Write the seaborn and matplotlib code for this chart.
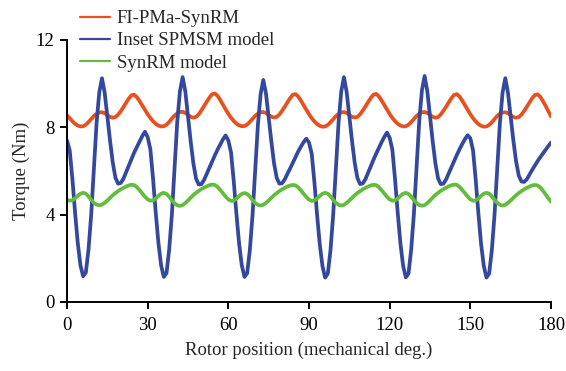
import numpy as np
import pandas as pd
import seaborn as sns
import matplotlib
matplotlib.use("Agg")
import matplotlib.pyplot as plt

# Rotor position grid (mechanical degrees)
position = list(range(0, 181))

# Torque, one value per degree
fi_pma_synrm = [
    8.55, 8.42, 8.28, 8.16, 8.08, 8.04, 8.05, 8.12, 8.24, 8.38, 8.52, 8.62, 8.68, 8.69, 8.65, 8.56, 8.48, 8.44, 8.47, 8.58, 8.74, 8.93, 9.13, 9.32, 9.47, 9.49, 9.38, 9.20, 9.00, 8.80,
    8.60, 8.43, 8.28, 8.16, 8.08, 8.04, 8.05, 8.12, 8.25, 8.40, 8.54, 8.64, 8.70, 8.71, 8.66, 8.57, 8.48, 8.44, 8.48, 8.60, 8.78, 8.98, 9.18, 9.37, 9.52, 9.55, 9.44, 9.25, 9.03, 8.82,
    8.62, 8.44, 8.29, 8.17, 8.09, 8.05, 8.06, 8.13, 8.25, 8.39, 8.53, 8.63, 8.69, 8.70, 8.66, 8.57, 8.49, 8.45, 8.48, 8.59, 8.76, 8.95, 9.15, 9.34, 9.49, 9.52, 9.41, 9.22, 9.01, 8.80,
    8.60, 8.42, 8.27, 8.15, 8.07, 8.03, 8.04, 8.11, 8.23, 8.37, 8.51, 8.62, 8.68, 8.70, 8.66, 8.57, 8.48, 8.45, 8.48, 8.60, 8.77, 8.96, 9.16, 9.35, 9.50, 9.53, 9.42, 9.23, 9.02, 8.81,
    8.61, 8.43, 8.28, 8.16, 8.08, 8.04, 8.05, 8.12, 8.24, 8.38, 8.52, 8.63, 8.69, 8.70, 8.66, 8.57, 8.48, 8.44, 8.47, 8.59, 8.76, 8.95, 9.15, 9.34, 9.49, 9.52, 9.41, 9.22, 9.01, 8.80,
    8.60, 8.42, 8.27, 8.15, 8.07, 8.03, 8.04, 8.11, 8.23, 8.38, 8.52, 8.62, 8.68, 8.69, 8.65, 8.56, 8.47, 8.44, 8.47, 8.58, 8.75, 8.94, 9.14, 9.33, 9.48, 9.51, 9.40, 9.20, 8.98, 8.74,
    8.50,
]

inset_spmsm = [
    7.40, 6.95, 5.65, 4.10, 2.70, 1.68, 1.18, 1.35, 2.40, 4.00, 6.10, 8.20, 9.60, 10.25, 9.60, 8.50, 7.40, 6.40, 5.70, 5.42, 5.45, 5.65, 5.95, 6.25, 6.55, 6.85, 7.10, 7.35, 7.60, 7.80,
    7.55, 7.00, 5.65, 4.10, 2.70, 1.68, 1.15, 1.32, 2.40, 4.00, 6.15, 8.25, 9.65, 10.30, 9.65, 8.50, 7.35, 6.35, 5.65, 5.38, 5.40, 5.60, 5.88, 6.15, 6.45, 6.72, 6.98, 7.22, 7.45, 7.63,
    7.40, 6.85, 5.55, 4.05, 2.68, 1.68, 1.15, 1.32, 2.38, 3.98, 6.05, 8.12, 9.52, 10.17, 9.55, 8.45, 7.35, 6.35, 5.68, 5.42, 5.44, 5.62, 5.88, 6.12, 6.38, 6.65, 6.90, 7.12, 7.32, 7.48,
    7.30, 6.80, 5.50, 4.00, 2.65, 1.65, 1.12, 1.30, 2.38, 4.00, 6.12, 8.22, 9.65, 10.30, 9.62, 8.48, 7.38, 6.38, 5.68, 5.40, 5.43, 5.63, 5.93, 6.22, 6.52, 6.80, 7.06, 7.32, 7.56, 7.76,
    7.52, 6.98, 5.62, 4.08, 2.68, 1.66, 1.13, 1.30, 2.40, 4.02, 6.15, 8.28, 9.70, 10.35, 9.66, 8.50, 7.36, 6.36, 5.66, 5.40, 5.42, 5.62, 5.90, 6.18, 6.46, 6.74, 7.00, 7.24, 7.46, 7.64,
    7.50, 6.95, 5.60, 4.05, 2.66, 1.65, 1.12, 1.30, 2.38, 4.00, 6.12, 8.20, 9.60, 10.25, 9.58, 8.48, 7.40, 6.45, 5.80, 5.52, 5.50, 5.62, 5.84, 6.05, 6.25, 6.45, 6.63, 6.80, 6.97, 7.14,
    7.30,
]

synrm = [
    4.68, 4.64, 4.66, 4.75, 4.87, 4.96, 5.00, 4.96, 4.84, 4.68, 4.54, 4.46, 4.43, 4.46, 4.54, 4.65, 4.77, 4.89, 4.99, 5.08, 5.16, 5.23, 5.29, 5.34, 5.37, 5.35, 5.26, 5.12, 4.97, 4.82,
    4.70, 4.64, 4.65, 4.74, 4.86, 4.96, 5.00, 4.95, 4.82, 4.66, 4.52, 4.43, 4.40, 4.44, 4.53, 4.65, 4.78, 4.90, 5.00, 5.09, 5.17, 5.24, 5.30, 5.35, 5.38, 5.36, 5.27, 5.13, 4.98, 4.83,
    4.70, 4.63, 4.64, 4.73, 4.85, 4.95, 4.99, 4.95, 4.83, 4.67, 4.53, 4.45, 4.42, 4.45, 4.54, 4.65, 4.77, 4.89, 4.99, 5.08, 5.16, 5.23, 5.29, 5.34, 5.36, 5.34, 5.25, 5.11, 4.96, 4.81,
    4.69, 4.63, 4.65, 4.74, 4.86, 4.96, 5.00, 4.96, 4.84, 4.68, 4.54, 4.45, 4.42, 4.45, 4.54, 4.65, 4.77, 4.89, 4.99, 5.08, 5.16, 5.23, 5.29, 5.34, 5.37, 5.35, 5.26, 5.12, 4.97, 4.82,
    4.70, 4.64, 4.65, 4.74, 4.86, 4.96, 5.00, 4.95, 4.83, 4.67, 4.53, 4.44, 4.41, 4.44, 4.53, 4.65, 4.78, 4.90, 5.00, 5.09, 5.17, 5.24, 5.30, 5.35, 5.38, 5.36, 5.27, 5.13, 4.98, 4.83,
    4.70, 4.64, 4.65, 4.74, 4.86, 4.96, 5.00, 4.96, 4.84, 4.68, 4.54, 4.45, 4.42, 4.45, 4.54, 4.65, 4.77, 4.89, 4.99, 5.08, 5.16, 5.23, 5.29, 5.34, 5.36, 5.34, 5.25, 5.10, 4.93, 4.75,
    4.60,
]

models = ["FI-PMa-SynRM", "Inset SPMSM model", "SynRM model"]
colors = ["#e8501e", "#34489e", "#62bd3c"]
x_ticks = [0, 30, 60, 90, 120, 150, 180]
y_ticks = [0, 4, 8, 12]

# Long format for seaborn
df = pd.DataFrame({
    "position": position * 3,
    "torque": fi_pma_synrm + inset_spmsm + synrm,
    "model": [models[0]] * len(position) + [models[1]] * len(position) + [models[2]] * len(position),
})

sns.set_style("ticks")
plt.rcParams["font.family"] = ["Liberation Serif", "DejaVu Serif"]
fs = 13.5

fig = plt.figure(figsize=(5.66, 3.71), dpi=100)
ax = fig.add_axes([67 / 566, 1 - 302 / 371, 484 / 566, 262 / 371])

sns.lineplot(data=df, x="position", y="torque", hue="model", hue_order=models,
             palette=colors, linewidth=2.7, ax=ax, legend=False)

ax.set_xlim(0, 180)
ax.set_ylim(0, 12)
ax.set_xticks(x_ticks)
ax.set_yticks(y_ticks)
ax.set_xlabel("Rotor position (mechanical deg.)", fontsize=fs, labelpad=5)
ax.set_ylabel("Torque (Nm)", fontsize=fs)
ax.tick_params(direction="out", length=5, width=1.4, labelsize=fs, colors="black", pad=4)
ax.tick_params(axis="x", pad=6)
sns.despine(ax=ax)
for side in ["left", "bottom"]:
    ax.spines[side].set_linewidth(1.4)
    ax.spines[side].set_color("black")

# Legend sits above the plot area, top left
handles = [plt.Line2D([], [], color=c, linewidth=1.6) for c in colors]
fig.legend(handles, models, loc="upper left", bbox_to_anchor=(80 / 566, 1 - 10 / 371),
           frameon=False, fontsize=fs, handlelength=1.6, handletextpad=0.37,
           labelspacing=0.27, borderpad=0, borderaxespad=0)

fig.savefig("out.png", dpi=100)
